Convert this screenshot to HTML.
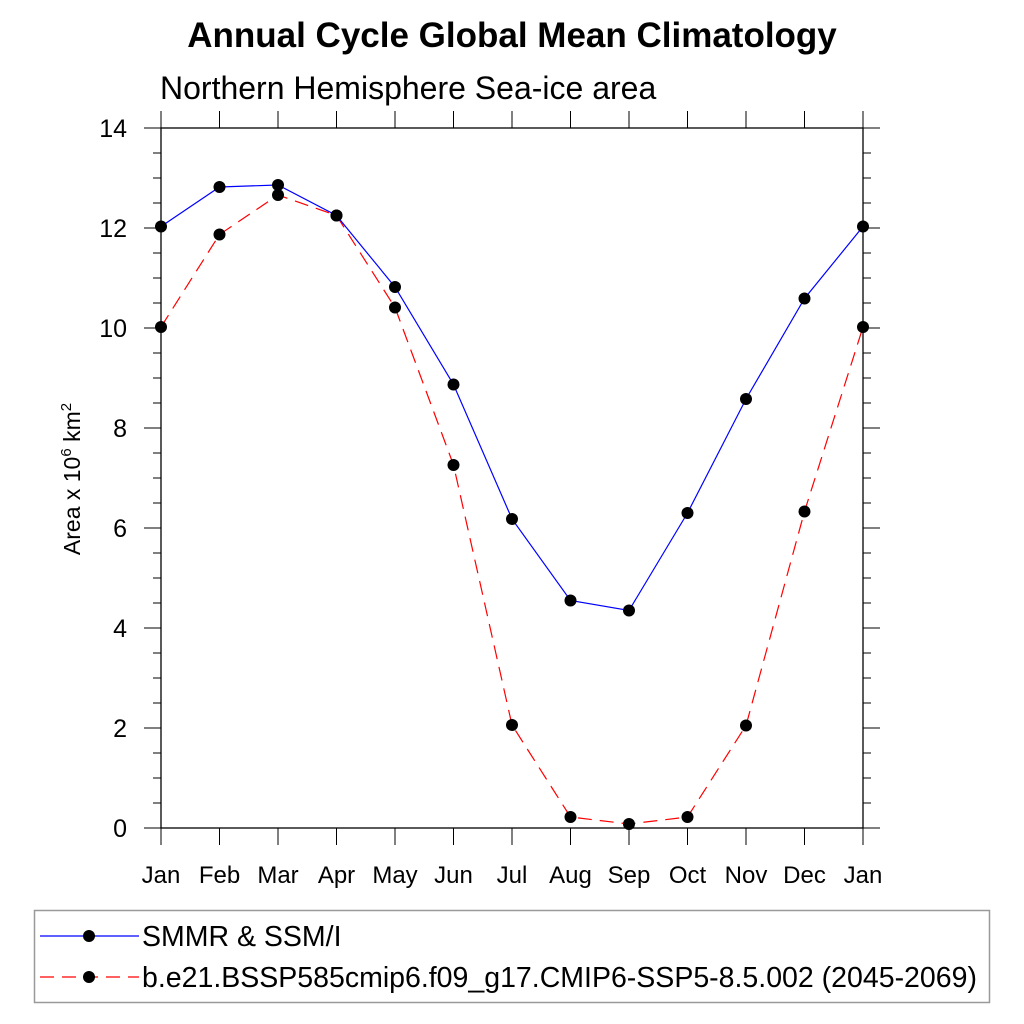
<!DOCTYPE html>
<html><head><meta charset="utf-8"><style>body{margin:0;background:#fff}svg{display:block;font-family:"Liberation Sans",sans-serif}</style></head>
<body>
<svg id="c" width="1024" height="1024">
<text x="512" y="47" text-anchor="middle" font-size="35" font-weight="bold">Annual Cycle Global Mean Climatology</text>
<text x="160" y="99" font-size="32">Northern Hemisphere Sea-ice area</text>
<text transform="translate(80,479) rotate(-90)" text-anchor="middle" font-size="23">Area x 10<tspan dy="-9" font-size="15">6</tspan><tspan dy="9"> km</tspan><tspan dy="-9" font-size="15">2</tspan></text>
<g id="ax"></g>
<g id="marks"></g>
<rect x="34.5" y="910.5" width="955" height="92" fill="none" stroke="#999" stroke-width="1.5"/>
<g><line x1="40" y1="936" x2="139" y2="936" stroke="#00f" stroke-width="1.2"/><circle cx="89" cy="936" r="6"/><text x="142" y="946" font-size="28.5">SMMR &amp; SSM/I</text></g>
<g><line x1="40" y1="977" x2="139" y2="977" stroke="#f00" stroke-width="1.2" stroke-dasharray="14,8"/><circle cx="89" cy="977" r="6"/><text x="142" y="987" font-size="28.5">b.e21.BSSP585cmip6.f09_g17.CMIP6-SSP5-8.5.002 (2045-2069)</text></g>
</svg>
<script>
const months=["Jan","Feb","Mar","Apr","May","Jun","Jul","Aug","Sep","Oct","Nov","Dec","Jan"];
const obs=[12.03,12.82,12.86,12.25,10.82,8.87,6.18,4.55,4.35,6.30,8.58,10.59,12.03];
const model=[10.02,11.87,12.66,12.25,10.41,7.26,2.06,0.22,0.08,0.22,2.05,6.33,10.02];
const yTicks=[0,2,4,6,8,10,12,14];
const L=161,R=863,T=128,B=828,ymax=14;
const X=i=>L+(R-L)*i/(months.length-1);
const Y=v=>B-(B-T)*v/ymax;
const NS="http://www.w3.org/2000/svg";
function mk(p,t,a){const e=document.createElementNS(NS,t);for(const k in a)e.setAttribute(k,a[k]);p.appendChild(e);return e;}
const ax=document.getElementById('ax'),mg=document.getElementById('marks');
const fr=mk(ax,'rect',{x:L,y:T,width:R-L,height:B-T,fill:'none',stroke:'#000','stroke-width':1.3});


months.forEach((m,i)=>{const x=X(i);
mk(ax,'line',{x1:x,y1:B,x2:x,y2:B+17,stroke:'#000'});
mk(ax,'line',{x1:x,y1:T,x2:x,y2:T-17,stroke:'#000'});
const t=mk(ax,'text',{x:x,y:883,'text-anchor':'middle','font-size':24});t.textContent=m;

});
for(let v=0;v<=ymax+1e-9;v+=0.5){const y=Y(v);const maj=Math.abs(v%2)<1e-9;
const len=maj?17:8;
mk(ax,'line',{x1:L-len,y1:y,x2:L,y2:y,stroke:'#000'});
mk(ax,'line',{x1:R,y1:y,x2:R+len,y2:y,stroke:'#000'});}
yTicks.forEach(v=>{const t=mk(ax,'text',{x:127,y:Y(v)+9,'text-anchor':'end','font-size':25});t.textContent=v;

});
function series(d,col,dash,name){const p=mk(mg,'polyline',{points:d.map((v,i)=>X(i)+','+Y(v)).join(' '),fill:'none',stroke:col,'stroke-width':1.2,'stroke-dasharray':dash});


d.forEach((v,i)=>{const c=mk(mg,'circle',{cx:X(i),cy:Y(v),r:6});

});}
series(model,'#f00','14,8','model');
series(obs,'#00f','none','obs');
</script>
</body></html>
